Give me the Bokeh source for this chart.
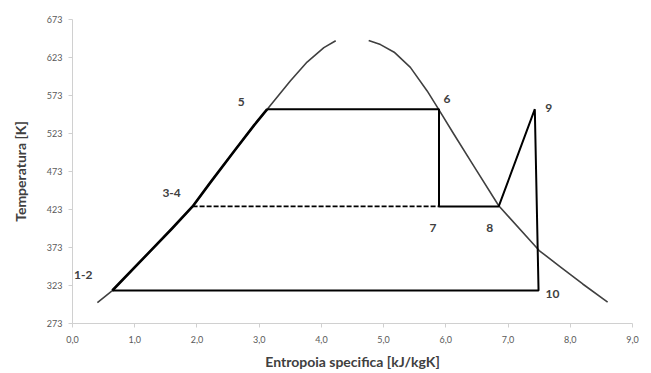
from bokeh.plotting import figure
from bokeh.models import FixedTicker, Range1d, ColumnDataSource
from bokeh.core.properties import value
from bokeh.embed import file_html
from bokeh.resources import INLINE

# saturation dome (entropy kJ/kgK, temperature K)
dome_left_s = [0.40, 0.64, 1.2, 1.6, 1.93, 2.22, 2.6, 2.92, 3.13, 3.50, 3.77, 4.04, 4.23]
dome_left_T = [300.6, 316.4, 364, 398, 427, 459, 500, 534, 555, 592, 617, 636, 645]
dome_right_s = [4.76, 4.95, 5.17, 5.43, 5.70, 5.89, 6.13, 6.45, 6.85, 7.50, 7.85, 8.20, 8.60]
dome_right_T = [645.4, 640, 630, 610, 579, 554, 522, 480, 428, 369, 347, 325, 301]

# cycle points
cycle_names = ["1-2", "3-4", "5", "6", "7", "8", "9", "10"]
cycle_s = [0.64, 1.93, 3.13, 5.89, 5.89, 6.85, 7.43, 7.49]
cycle_T = [316.4, 427, 555, 555, 427, 427, 555, 316.4]

x_ticks = [0, 1, 2, 3, 4, 5, 6, 7, 8, 9]
x_tick_labels = ["0,0", "1,0", "2,0", "3,0", "4,0", "5,0", "6,0", "7,0", "8,0", "9,0"]
y_ticks = [273, 323, 373, 423, 473, 523, 573, 623, 673]

FONT = "Lato"

p = figure(width=648, height=372, output_backend="svg", toolbar_location=None,
           x_range=Range1d(0, 9), y_range=Range1d(273, 673))
p.min_border_left = 72
p.min_border_right = 16
p.min_border_top = 19
p.min_border_bottom = 49
p.outline_line_color = None
p.grid.visible = False
p.background_fill_color = "white"

# dome
p.line(dome_left_s, dome_left_T, line_color="#404040", line_width=1.6, line_join="round")
p.line(dome_right_s, dome_right_T, line_color="#404040", line_width=1.6, line_join="round")

# heating along the liquid line: 1-2 -> 3-4 -> 5 (follows the dome points)
heat_s = dome_left_s[1:9]
heat_T = dome_left_T[1:9]
p.line(heat_s, heat_T, line_color="black", line_width=2.6, line_join="round")

# rest of cycle: 5 -> 6 -> 7 -> 8 -> 9 -> 10 -> 1-2
order = [2, 3, 4, 5, 6, 7, 0]
p.line([cycle_s[i] for i in order], [cycle_T[i] for i in order],
       line_color="black", line_width=2)
# dashed 3-4 to 7
p.line([cycle_s[1], cycle_s[4]], [cycle_T[1], cycle_T[4]],
       line_color="black", line_width=1.8, line_dash="5 2")

# labels
x_off = [-29, -21, -26, 8, -6, -9, 14, 14]
y_off = [-16, -13, -7, -10, 22, 22, -1, 3]
src = ColumnDataSource(dict(x=cycle_s, y=cycle_T, t=cycle_names, xo=x_off, yo=y_off))
p.text(x="x", y="y", text="t", x_offset="xo", y_offset="yo", source=src,
       text_font=value(FONT), text_font_style="bold", text_font_size="12px",
       text_color="#404040", text_align="center", text_baseline="middle")

# axes
for ax in (p.xaxis[0], p.yaxis[0]):
    ax.axis_line_color = "#d0d0d0"
    ax.major_tick_line_color = "#d0d0d0"
    ax.major_tick_out = 4
    ax.major_tick_in = 0
    ax.minor_tick_line_color = None
    ax.major_label_text_font = FONT
    ax.major_label_text_font_size = "9px"
    ax.major_label_text_color = "#595959"
    ax.axis_label_text_font = FONT
    ax.axis_label_text_font_style = "bold"
    ax.axis_label_text_font_size = "14px"
    ax.axis_label_text_color = "#404040"

p.xaxis.ticker = FixedTicker(ticks=x_ticks)
p.xaxis.major_label_overrides = {t: l for t, l in zip(x_ticks, x_tick_labels)}
p.xaxis.axis_label = "Entropoia specifica [kJ/kgK]"
p.xaxis.major_label_standoff = 8
p.xaxis.axis_label_standoff = 7

p.yaxis.ticker = FixedTicker(ticks=y_ticks)
p.yaxis.axis_label = "Temperatura [K]"
p.yaxis.major_label_standoff = 6
p.yaxis.axis_label_standoff = 15

open("out.html", "w").write(file_html(p, INLINE))
